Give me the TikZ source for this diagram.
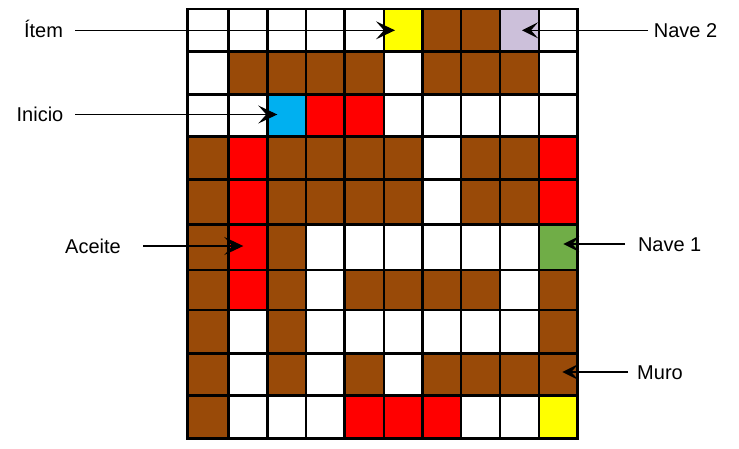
\documentclass[tikz,border=0pt]{standalone}
\usepackage{fontspec}
\setmainfont{Liberation Sans}
\usetikzlibrary{arrows.meta,calc}
\definecolor{cW}{RGB}{255,255,255}
\definecolor{cB}{RGB}{153,74,8}
\definecolor{cR}{RGB}{255,0,0}
\definecolor{cY}{RGB}{255,255,0}
\definecolor{cC}{RGB}{0,176,240}
\definecolor{cL}{RGB}{204,192,218}
\definecolor{cG}{RGB}{112,173,71}
\begin{document}
\begin{tikzpicture}[x=1pt,y=-1pt,
  cell/.style={inner sep=0pt,outer sep=0pt,draw=none},
  gridline/.style={draw=black,line width=2.6pt,line join=miter},
  lbl/.style={font=\fontsize{20}{23}\selectfont,inner sep=0pt,outer sep=0pt,
    text height=14.3pt,text depth=0pt,align=center},
  pointer/.style={line width=1.3pt,draw=black,
    -{Stealth[length=19pt,width=18pt,inset=8pt]}},
  smallpointer/.style={line width=1.3pt,draw=black,
    -{Stealth[length=16pt,width=16pt,inset=7pt]}}]
\useasboundingbox (0,0) rectangle (739,448);
\def\xs{{187.3,228.3,267.3,306,344.3,384,422.3,461,500,539,577.3}}
\def\ys{{9,51.7,94.3,136.7,179.3,224.7,270,310,353.3,395.7,438.3}}
% cells
\foreach \row [count=\r from 0] in {
  {W,W,W,W,W,Y,B,B,L,W},
  {W,B,B,B,B,W,B,B,B,W},
  {W,W,C,R,R,W,W,W,W,W},
  {B,R,B,B,B,B,W,B,B,R},
  {B,R,B,B,B,B,W,B,B,R},
  {B,R,B,W,W,W,W,W,W,G},
  {B,R,B,W,B,B,B,B,W,B},
  {B,W,B,W,W,W,W,W,W,B},
  {B,W,B,W,B,W,B,B,B,B},
  {B,W,W,W,R,R,R,W,W,Y}}{
  \foreach \col [count=\c from 0] in \row {
    \pgfmathsetmacro\xa{\xs[\c]}
    \pgfmathsetmacro\xb{\xs[\c+1]}
    \pgfmathsetmacro\ya{\ys[\r]}
    \pgfmathsetmacro\yb{\ys[\r+1]}
    \pgfmathsetmacro\w{\xb-\xa}
    \pgfmathsetmacro\h{\yb-\ya}
    \node[cell,fill=c\col,minimum width=\w pt,minimum height=\h pt]
      (c\r\c) at ({(\xa+\xb)/2},{(\ya+\yb)/2}) {};
  }
}
% grid lines
\foreach \r in {0,...,9}{
  \foreach \c in {0,...,9}{
    \draw[gridline] (c\r\c.north west) rectangle (c\r\c.south east);
  }
}
% labels
\node[lbl,minimum width=47pt,anchor=west] (item) at (20,30.3) {Ítem};
\node[lbl,minimum width=54pt,anchor=west] (inicio) at (13,114.5) {Inicio};
\node[lbl,minimum width=60pt,anchor=west] (aceite) at (63,246) {Aceite};
\node[lbl,minimum width=65pt,anchor=west] (nave2) at (653,30.3) {Nave 2};
\node[lbl,minimum width=62pt,anchor=west] (nave1) at (638,244) {Nave 1};
\node[lbl,minimum width=46pt,anchor=west] (muro) at (637,372) {Muro};
% arrow targets
\coordinate (tItem) at ($(c05.west)+(11,0)$);
\coordinate (tInicio) at ($(c22.west)+(10,0)$);
\coordinate (tAceite) at ($(c51.west)+(15,0)$);
\coordinate (tNaveB) at ($(c08.east)+(-17,0)$);
\coordinate (tNaveA) at ($(c59.east)+(-14,0)$);
\coordinate (tMuro) at ($(c89.east)+(-15,0)$);
% arrows
\draw[pointer,shorten <=8pt] (item.east) -- (item.east -| tItem);
\draw[pointer,shorten <=8pt] (inicio.east) -- (inicio.east -| tInicio);
\draw[pointer,shorten <=20pt] (aceite.east) -- (aceite.east -| tAceite);
\draw[smallpointer,shorten <=5pt] (nave2.west) -- (nave2.west -| tNaveB);
\draw[smallpointer,shorten <=13pt] (nave1.west) -- (nave1.west -| tNaveA);
\draw[smallpointer,shorten <=9pt] (muro.west) -- (muro.west -| tMuro);
\end{tikzpicture}
\end{document}
